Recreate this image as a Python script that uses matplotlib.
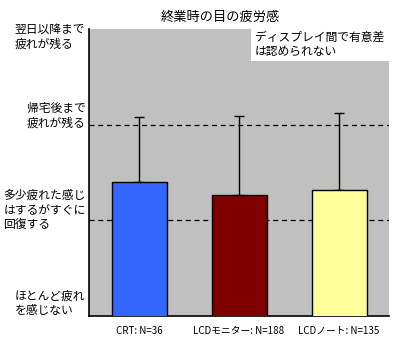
"""終業時の目の疲労感 - bar chart with upward error bars."""
import matplotlib
matplotlib.use("Agg")
import matplotlib.pyplot as plt
from matplotlib.patches import Rectangle

plt.rcParams["font.family"] = ["Noto Sans CJK JP", "DejaVu Sans"]

categories = ["CRT: N=36", "LCDモニター: N=188", "LCDノート: N=135"]
means = [2.40, 2.26, 2.32]
errors = [0.68, 0.83, 0.80]
bar_colors = ["#3366FF", "#800000", "#FFFF99"]

levels = [1, 2, 3, 4]
level_labels = [
    "ほとんど疲れ\nを感じない",
    "多少疲れた感じ\nはするがすぐに\n回復する",
    "帰宅後まで\n疲れが残る",
    "翌日以降まで\n疲れが残る",
]
level_offsets = [0.13, 0.11, 0.09, -0.08]

fig = plt.figure(figsize=(4, 3.5), dpi=100)
ax = fig.add_axes([0.2225, 0.0971, 0.75, 0.82])
ax.set_facecolor("#C0C0C0")

x = range(len(categories))
ax.bar(x, means, width=0.55, bottom=0, color=bar_colors,
       edgecolor="black", linewidth=1.0, zorder=3)
ax.errorbar(x, means, yerr=[[0] * len(errors), errors], fmt="none",
            ecolor="black", elinewidth=1.0, capsize=3.5, capthick=1.0,
            zorder=2)

ax.set_xlim(-0.5, 2.5)
ax.set_ylim(1, 4)
for lv in levels[1:3]:
    ax.axhline(lv, color="black", linestyle=(0, (4, 3)), linewidth=0.9,
               zorder=1)

ax.set_xticks(list(x))
ax.set_xticklabels(categories, fontsize=7)
ax.tick_params(axis="x", length=0, pad=7)
ax.set_yticks([])
for spine in ["top", "right"]:
    ax.spines[spine].set_visible(False)
ax.spines["left"].set_linewidth(1.2)
ax.spines["bottom"].set_linewidth(1.2)

for lv, lab, off in zip(levels, level_labels, level_offsets):
    ax.text(-0.012, lv + off, lab, transform=ax.get_yaxis_transform(),
            ha="right", va="center", multialignment="left",
            fontsize=8.5, linespacing=1.15)

# note box in the top-right corner of the plot area
ax.add_patch(Rectangle((0.54, 0.89), 0.46, 0.11, transform=ax.transAxes,
                       facecolor="white", edgecolor="none", zorder=4))
ax.text(0.553, 0.995, "ディスプレイ間で有意差\nは認められない",
        transform=ax.transAxes, ha="left", va="top", fontsize=8.5,
        linespacing=1.15, zorder=5)

fig.text(0.55, 0.95, "終業時の目の疲労感", ha="center", va="center",
         fontsize=9.5)

fig.savefig("out.png", dpi=100)
